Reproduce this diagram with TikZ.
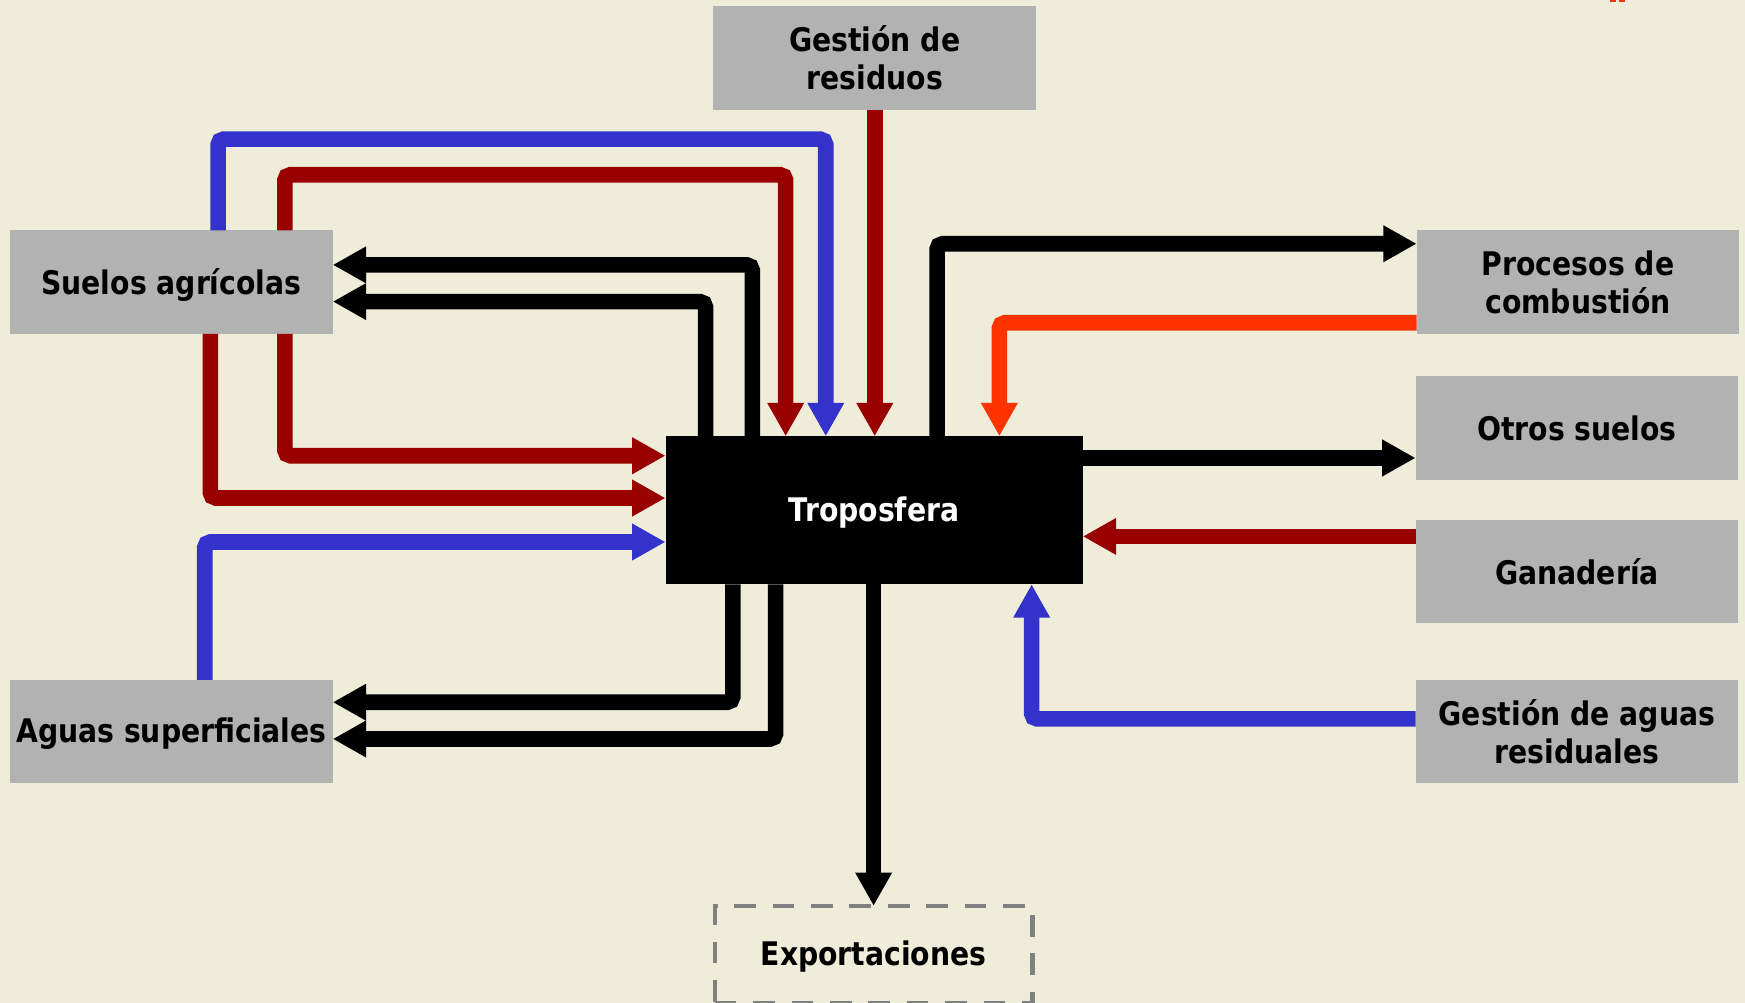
\documentclass[tikz,border=0pt]{standalone}
\usepackage{fontspec}
\setmainfont{DejaVu Sans}[FakeStretch=0.87]
\usetikzlibrary{arrows.meta}
\definecolor{bg}{RGB}{240,236,218}
\definecolor{boxgray}{RGB}{178,178,178}
\definecolor{dred}{RGB}{153,0,0}
\definecolor{fblue}{RGB}{51,51,204}
\definecolor{forange}{RGB}{255,51,0}
\definecolor{dashgray}{RGB}{128,128,128}
\begin{document}
\begin{tikzpicture}[x=0.5pt,y=-0.5pt,
  lbl/.style={inner sep=0pt, outer sep=0pt, align=center,
    font=\fontsize{14.6}{17}\selectfont\bfseries},
  lowdesc/.style={text depth=1pt},
  box/.style={lbl, fill=boxgray, minimum width=145pt, minimum height=46.5pt},
  tropobox/.style={lbl, fill=black, text=white, minimum width=187.5pt, minimum height=66.5pt},
  exportbox/.style={lbl, draw=dashgray, line width=2pt, dash pattern=on 9.75pt off 7.5pt,
    minimum width=142.75pt, minimum height=43.5pt},
  flow/.style={line width=7pt, rounded corners=2.5pt,
    -{Triangle[width=15.5pt,length=15pt]}}]
\useasboundingbox (0,0) rectangle (1568,901);
\fill[bg] (0,0) rectangle (1568,901);
\fill[forange] (1446.7,0) rectangle (1452.2,1.5);
\fill[forange] (1455,0) rectangle (1460.4,1.5);

% nodes
\node[box] (residuos) at (786,52) {Gestión de\\residuos};
\node[box, lowdesc] (suelos) at (154,253.5) {Suelos agrícolas};
\node[box, lowdesc] (aguas) at (154,657.5) {Aguas superficiales};
\node[box] (procesos) at (1418,253.5) {Procesos de\\combustión};
\node[box] (otros) at (1417,384.5) {Otros suelos};
\node[box] (ganaderia) at (1417,513.5) {Ganadería};
\node[box] (aguasres) at (1417,657.5) {Gestión de aguas\\residuales};
\node[tropobox, lowdesc] (tropo) at (785.5,458.5) {Troposfera};
\node[exportbox, lowdesc] (export) at (785,857.5) {Exportaciones};

% bend points
\coordinate (p1) at (196,125);  \coordinate (q1) at (742,125);
\coordinate (p2) at (256,157);  \coordinate (q2) at (706,157);
\coordinate (p4) at (676,238);
\coordinate (p5) at (634,271);
\coordinate (p6) at (842,219);
\coordinate (p7) at (898,290);
\coordinate (p8) at (1100,411.5);
\coordinate (p9) at (1100,482);
\coordinate (p10) at (927,646);
\coordinate (p12) at (256,409.5);
\coordinate (p13) at (189,447.5);
\coordinate (p14) at (184,487);
\coordinate (p15) at (658.5,631);
\coordinate (p16) at (697,664);

% connectors
\draw[flow, fblue] (suelos.north -| p1) -- (p1) -- (q1) -- (tropo.north -| q1);
\draw[flow, dred] (suelos.north -| p2) -- (p2) -- (q2) -- (tropo.north -| q2);
\draw[flow, dred] (residuos.south) -- (tropo.north -| residuos.south);
\draw[flow, black] (tropo.north -| p4) -- (p4) -- (suelos.east |- p4);
\draw[flow, black] (tropo.north -| p5) -- (p5) -- (suelos.east |- p5);
\draw[flow, black] (tropo.north -| p6) -- (p6) -- (procesos.west |- p6);
\draw[flow, forange] (procesos.west |- p7) -- (p7) -- (tropo.north -| p7);
\draw[flow, black] (tropo.east |- p8) -- (otros.west |- p8);
\draw[flow, dred] (ganaderia.west |- p9) -- (tropo.east |- p9);
\draw[flow, fblue] (aguasres.west |- p10) -- (p10) -- (tropo.south -| p10);
\draw[flow, black] (tropo.south -| export.north) -- (export.north);
\draw[flow, dred] (suelos.south -| p12) -- (p12) -- (tropo.west |- p12);
\draw[flow, dred] (suelos.south -| p13) -- (p13) -- (tropo.west |- p13);
\draw[flow, fblue] (aguas.north -| p14) -- (p14) -- (tropo.west |- p14);
\draw[flow, black] (tropo.south -| p15) -- (p15) -- (aguas.east |- p15);
\draw[flow, black] (tropo.south -| p16) -- (p16) -- (aguas.east |- p16);
\end{tikzpicture}
\end{document}
